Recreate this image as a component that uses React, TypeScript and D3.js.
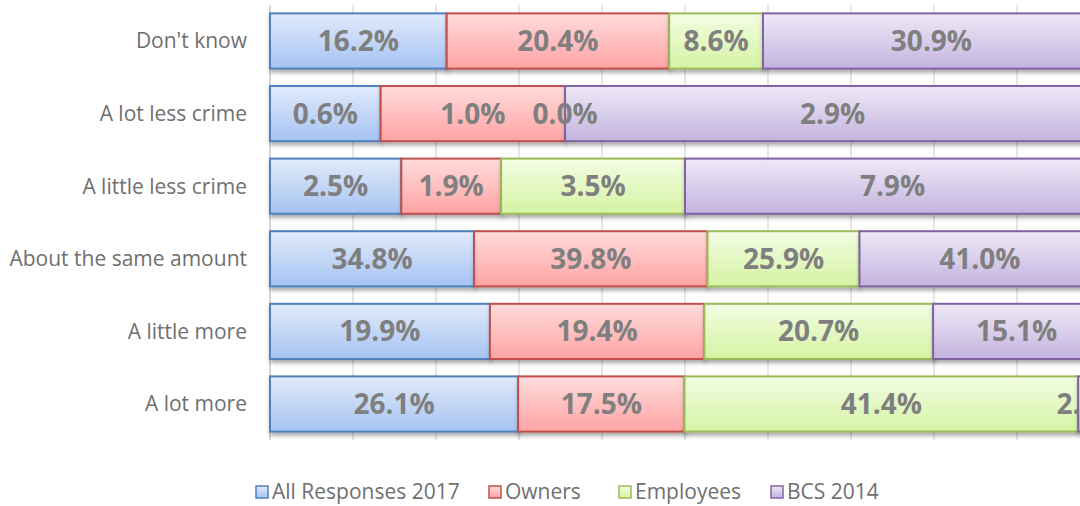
import { useMemo } from "react";
import * as d3 from "d3";

const categories = [
  "Don't know",
  "A lot less crime",
  "A little less crime",
  "About the same amount",
  "A little more",
  "A lot more",
];

const seriesNames = ["All Responses 2017", "Owners", "Employees", "BCS 2014"];

// values per series, same order as categories
const allResponses = [16.2, 0.6, 2.5, 34.8, 19.9, 26.1];
const owners = [20.4, 1.0, 1.9, 39.8, 19.4, 17.5];
const employees = [8.6, 0.0, 3.5, 25.9, 20.7, 41.4];
const bcs = [30.9, 2.9, 7.9, 41.0, 15.1, 2.3];

const gridTicks = [0, 0.1, 0.2, 0.3, 0.4, 0.5, 0.6, 0.7, 0.8, 0.9, 1];

const colors = [
  { stroke: "#4f81bd", top: "#e1ebfb", bottom: "#a6c3f2" },
  { stroke: "#c0504d", top: "#ffdcdc", bottom: "#ffa3a3" },
  { stroke: "#9bbb59", top: "#f3fde3", bottom: "#d5f3a3" },
  { stroke: "#8064a2", top: "#eee9f7", bottom: "#c4b4df" },
];

const W = 1080;
const H = 506;

export default function App() {
  const rows = useMemo(
    () =>
      categories.map((c, i) => ({
        cat: c,
        s0: allResponses[i],
        s1: owners[i],
        s2: employees[i],
        s3: bcs[i],
      })),
    []
  );
  const valuesByKey: Record<string, number[]> = {
    s0: allResponses,
    s1: owners,
    s2: employees,
    s3: bcs,
  };

  const stacked = d3
    .stack<any>()
    .keys(["s0", "s1", "s2", "s3"])
    .offset(d3.stackOffsetExpand)(rows);

  const x = d3.scaleLinear().domain([0, 1]).range([270, 1100]);
  const y = d3
    .scaleBand()
    .domain(categories)
    .range([4.7, 440.3])
    .paddingInner(0.24)
    .paddingOuter(0.12);

  const legendX = [256, 489, 619, 771];

  return (
    <svg
      width={W}
      height={H}
      style={{ position: "absolute", left: 0, top: 0, background: "#fff" }}
      fontFamily="'Open Sans', sans-serif"
    >
      <defs>
        {colors.map((c, i) => (
          <linearGradient key={i} id={`g${i}`} x1="0" y1="0" x2="0" y2="1">
            <stop offset="0%" stopColor={c.top} />
            <stop offset="100%" stopColor={c.bottom} />
          </linearGradient>
        ))}
        <filter id="shadow" x="-5%" y="-20%" width="110%" height="160%">
          <feDropShadow dx="1" dy="3" stdDeviation="2" floodColor="#000" floodOpacity="0.35" />
        </filter>
      </defs>

      {/* gridlines */}
      <g>
        {gridTicks.map((t) => (
          <line
            key={t}
            x1={x(t)}
            x2={x(t)}
            y1={4.7}
            y2={440.3}
            stroke={t === 0 ? "#bfbfbf" : "#d9d9d9"}
            strokeWidth={1.3}
          />
        ))}
      </g>

      {/* bars */}
      {stacked.map((layer, si) => (
        <g key={si} filter="url(#shadow)">
          {layer.map((d, i) => (
            <rect
              key={i}
              x={x(d[0])}
              y={y(categories[i])}
              width={Math.max(0, x(d[1]) - x(d[0]))}
              height={y.bandwidth()}
              fill={`url(#g${si})`}
              stroke={colors[si].stroke}
              strokeWidth={2}
            />
          ))}
        </g>
      ))}

      {/* value labels */}
      {stacked.map((layer, si) => (
        <g key={si}>
          {layer.map((d, i) => (
            <text
              key={i}
              x={(x(d[0]) + x(d[1])) / 2}
              y={(y(categories[i]) as number) + y.bandwidth() / 2}
              dy="0.36em"
              textAnchor="middle"
              fontSize={28}
              fontWeight="bold"
              fill="#7f7f7f"
            >
              {valuesByKey[layer.key][i].toFixed(1) + "%"}
            </text>
          ))}
        </g>
      ))}

      {/* category labels */}
      {categories.map((c) => (
        <text
          key={c}
          x={247}
          y={(y(c) as number) + y.bandwidth() / 2}
          dy="0.35em"
          textAnchor="end"
          fontSize={21}
          fill="#6f6f6f"
        >
          {c}
        </text>
      ))}

      {/* legend */}
      {seriesNames.map((n, i) => (
        <g key={n}>
          <rect
            x={legendX[i]}
            y={486}
            width={12}
            height={12}
            fill={`url(#g${i})`}
            stroke={colors[i].stroke}
            strokeWidth={1.5}
          />
          <text x={legendX[i] + 16} y={492} dy="0.35em" fontSize={21} fill="#6f6f6f">
            {n}
          </text>
        </g>
      ))}
    </svg>
  );
}
